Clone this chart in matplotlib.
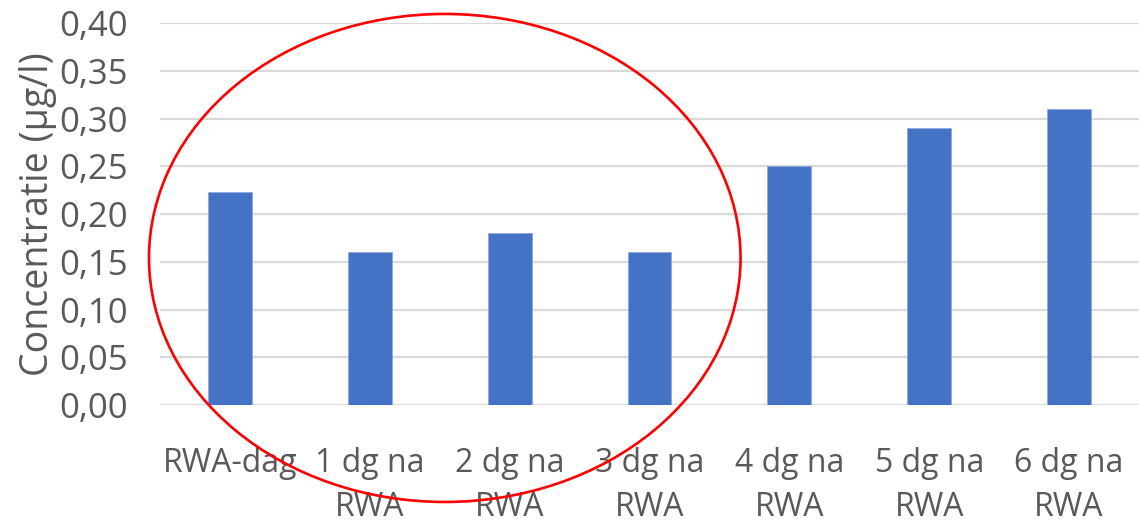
import matplotlib.pyplot as plt
from matplotlib.patches import Ellipse

plt.rcParams['font.family'] = ['Open Sans', 'DejaVu Sans']

##DATA##
categories = ["RWA-dag", "1 dg na\nRWA", "2 dg na\nRWA", "3 dg na\nRWA",
              "4 dg na\nRWA", "5 dg na\nRWA", "6 dg na\nRWA"]
values = [0.223, 0.16, 0.18, 0.16, 0.25, 0.29, 0.31]
yticks = [0.0, 0.05, 0.10, 0.15, 0.20, 0.25, 0.30, 0.35, 0.40]
ytick_labels = ["0,00", "0,05", "0,10", "0,15", "0,20", "0,25", "0,30", "0,35", "0,40"]

grey = '#595959'

fig = plt.figure(figsize=(11.39, 5.22), dpi=100)
ax = fig.add_axes([0.1405, 0.2241, 0.8595, 0.7318])

x = range(len(categories))
ax.bar(x, values, width=0.314, color='#4472C4', edgecolor='#8faadc',
       linewidth=0.6, zorder=3)

ax.set_xlim(-0.5, 6.5)
ax.set_ylim(0, 0.40)
ax.set_yticks(yticks)
ax.set_yticklabels(ytick_labels)
ax.set_xticks(list(x))
ax.set_xticklabels(categories, linespacing=1.45, va='top')

ax.yaxis.grid(True, color='#d9d9d9', linewidth=1.6, zorder=0)
ax.set_axisbelow(True)
for s in ax.spines.values():
    s.set_visible(False)

ax.tick_params(axis='y', length=0, pad=23, labelsize=25, labelcolor=grey)
ax.tick_params(axis='x', length=0, pad=30, labelsize=23, labelcolor=grey)

ax.set_ylabel("Concentratie (µg/l)", fontsize=27, color=grey, labelpad=2)

# red circle annotation
ell = Ellipse((1.536, 0.154), width=4.23, height=0.511, fill=False,
              edgecolor='#ff0000', linewidth=1.9, clip_on=False, zorder=5)
ax.add_patch(ell)

plt.savefig('out.png', dpi=100)
